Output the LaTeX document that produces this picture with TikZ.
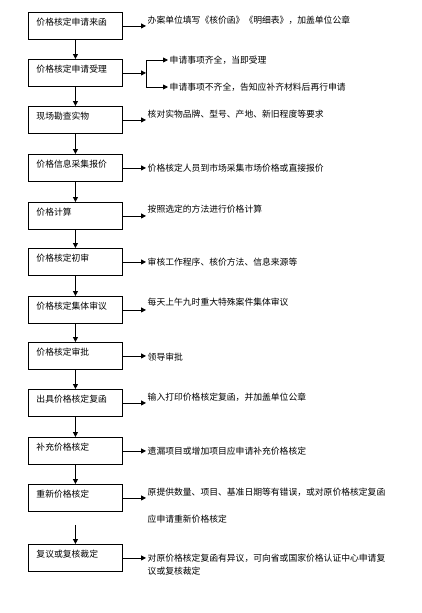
\documentclass[tikz,border=0pt]{standalone}
\usepackage{fontspec}
\setmainfont{Noto Sans CJK SC}
\usetikzlibrary{arrows.meta}
\begin{document}
\begin{tikzpicture}[x=1pt,y=-1pt,
  font=\fontsize{8.8}{13}\selectfont,
  box/.style={draw,line width=0.9pt,minimum width=94pt,minimum height=27pt,
    anchor=north west,text width=78pt,inner xsep=8pt,inner ysep=0pt,align=left,
    text height=6pt,text depth=6pt},
  side/.style={anchor=west,inner sep=1.5pt,align=left},
  arr/.style={line width=0.8pt,-{Triangle[length=5pt,width=5pt]}},
  ln/.style={line width=0.8pt}]
\fill[white] (0,0) rectangle (421,613);
\useasboundingbox (0,0) rectangle (421,613);
% boxes
\node[box] (b1) at (28,12) {价格核定申请来函};
\node[box] (b2) at (28,59) {价格核定申请受理};
\node[box] (b3) at (28,106) {现场勘查实物};
\node[box] (b4) at (28,154) {价格信息采集报价};
\node[box] (b5) at (28,202) {价格计算};
\node[box] (b6) at (28,248) {价格核定初审};
\node[box] (b7) at (28,296) {价格核定集体审议};
\node[box] (b8) at (28,342) {价格核定审批};
\node[box] (b9) at (28,389) {出具价格核定复函};
\node[box] (b10) at (28,437) {补充价格核定};
\node[box] (b11) at (28,484) {重新价格核定};
\node[box] (b12) at (28,544) {复议或复核裁定};
% vertical arrows
\foreach \a/\b in {b1/b2,b2/b3,b3/b4,b4/b5,b5/b6,b6/b7,b7/b8,b8/b9,b9/b10,b10/b11}
  \draw[arr] (\a.south) -- (\b.north);
\draw[arr,shorten <=13pt] (b11.south) -- (b12.north);
% side texts
\node[side] (s1) at (146,20) {办案单位填写《核价函》《明细表》，加盖单位公章};
\node[side] (s2a) at (168,60) {申请事项齐全，当即受理};
\node[side] (s2b) at (168,87) {申请事项不齐全，告知应补齐材料后再行申请};
\node[side] (s3) at (146,114) {核对实物品牌、型号、产地、新旧程度等要求};
\node[side] (s4) at (146,168) {价格核定人员到市场采集市场价格或直接报价};
\node[side] (s5) at (146,209) {按照选定的方法进行价格计算};
\node[side] (s6) at (146,262) {审核工作程序、核价方法、信息来源等};
\node[side] (s7) at (146,302) {每天上午九时重大特殊案件集体审议};
\node[side] (s8) at (146,357) {领导审批};
\node[side] (s9) at (146,397) {输入打印价格核定复函，并加盖单位公章};
\node[side] (s10) at (146,451) {遗漏项目或增加项目应申请补充价格核定};
\node[side] (s11a) at (146,492) {原提供数量、项目、基准日期等有错误，或对原价格核定复函};
\node[side] (s11b) at (146,519) {应申请重新价格核定};
\node[side,anchor=north west] (s12) at (146,552) {对原价格核定复函有异议，可向省或国家价格认证中心申请复\\议或复核裁定};
% side arrows
\foreach \b/\s in {b1/s1,b3/s3,b4/s4,b5/s5,b6/s6,b7/s7,b8/s8,b9/s9,b10/s10,b11/s11a}
  \draw[arr] (\b.east) -- (\b.east -| \s.west);
\draw[arr] (b12.east) -- (b12.east -| s12.west);
% branch
\coordinate (j) at (146,72.5);
\draw[arr] (b2.east) -- (b2.east -| j);
\draw[ln] (j |- s2a.west) -- (j |- s2b.west);
\draw[arr] (j |- s2a.west) -- (s2a.west);
\draw[arr] (j |- s2b.west) -- (s2b.west);
\end{tikzpicture}
\end{document}
